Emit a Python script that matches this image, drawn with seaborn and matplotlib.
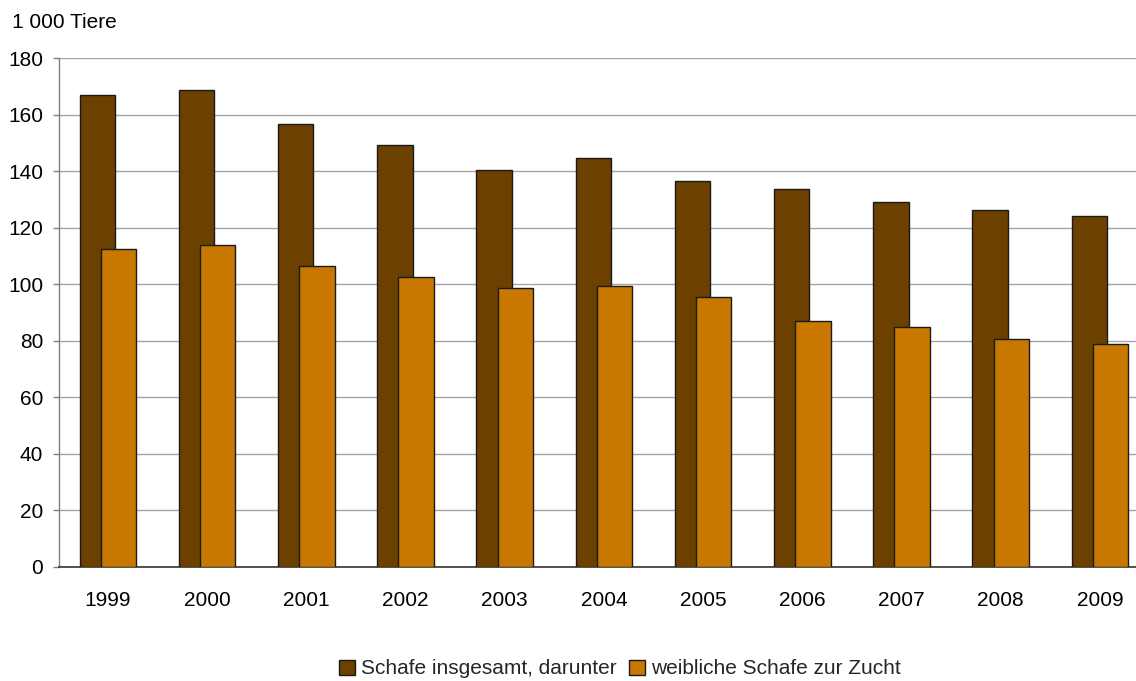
import numpy as np
import pandas as pd
import matplotlib
matplotlib.use("Agg")
import matplotlib.pyplot as plt
import seaborn as sns

years = [1999, 2000, 2001, 2002, 2003, 2004, 2005, 2006, 2007, 2008, 2009]
schafe_gesamt = [166.9, 168.7, 156.6, 149.2, 140.4, 144.6, 136.5, 133.7, 129.1, 126.2, 124.1]
weiblich_zucht = [112.4, 113.9, 106.4, 102.5, 98.7, 99.4, 95.5, 87.0, 84.9, 80.6, 78.9]
series_labels = ["Schafe insgesamt, darunter", "weibliche Schafe zur Zucht"]
y_ticks = [0, 20, 40, 60, 80, 100, 120, 140, 160, 180]
unit_label = "1 000 Tiere"

sns.set_theme(style="white")
plt.rcParams['font.family'] = ['Liberation Sans', 'DejaVu Sans']

df = pd.DataFrame({"Jahr": years, "gesamt": schafe_gesamt, "weiblich": weiblich_zucht})

fig = plt.figure(figsize=(11.36, 6.81), dpi=100)
ax = fig.add_axes([59/1136, 1 - 567/681, 1 - 59/1136, (567 - 58)/681])

dark = "#6C4100"
orange = "#C87800"
off_d, off_o, w = -0.108, 0.106, 0.357
fs = 15

sns.barplot(x=df["Jahr"] + off_d, y=df["gesamt"], native_scale=True, width=w,
            color=dark, saturation=1, edgecolor="#1a1a1a", linewidth=1.0,
            errorbar=None, ax=ax, label=series_labels[0], zorder=3)
sns.barplot(x=df["Jahr"] + off_o, y=df["weiblich"], native_scale=True, width=w,
            color=orange, saturation=1, edgecolor="#1a1a1a", linewidth=1.0,
            errorbar=None, ax=ax, label=series_labels[1], zorder=4)

if ax.get_legend() is not None:
    ax.get_legend().remove()

ax.set_xlim(years[0] - 0.494, years[-1] + 0.363)
ax.set_ylim(0, 180)
ax.set_yticks(y_ticks)
ax.set_yticklabels([str(t) for t in y_ticks], fontsize=fs, color="black")
ax.set_xticks(years)
ax.set_xticklabels([str(y) for y in years], fontsize=fs, color="black")
ax.set_xlabel("")
ax.set_ylabel("")

ax.yaxis.grid(True, color="#A6A6A6", linewidth=1.0, zorder=0)
ax.xaxis.grid(False)
ax.set_axisbelow(True)
for s in ["top", "right"]:
    ax.spines[s].set_visible(False)
ax.spines["left"].set_color("#808080")
ax.spines["left"].set_linewidth(1.0)
ax.spines["bottom"].set_color("#333333")
ax.spines["bottom"].set_linewidth(1.2)

ax.tick_params(axis="y", which="major", left=True, length=4.3, width=1, color="#808080", pad=7)
ax.tick_params(axis="x", which="major", bottom=False, length=0, pad=17)

fig.text(12/1136, 1 - 23/681, unit_label, fontsize=fs, va="center", ha="left", color="black")

handles, labels = ax.get_legend_handles_labels()
fig.legend(handles, labels, loc="center", bbox_to_anchor=(0.546, 1 - 669/681), ncol=2,
           frameon=False, fontsize=fs, handlelength=0.75, handleheight=0.75,
           handletextpad=0.3, columnspacing=0.6)

fig.savefig("out.png", dpi=100)
